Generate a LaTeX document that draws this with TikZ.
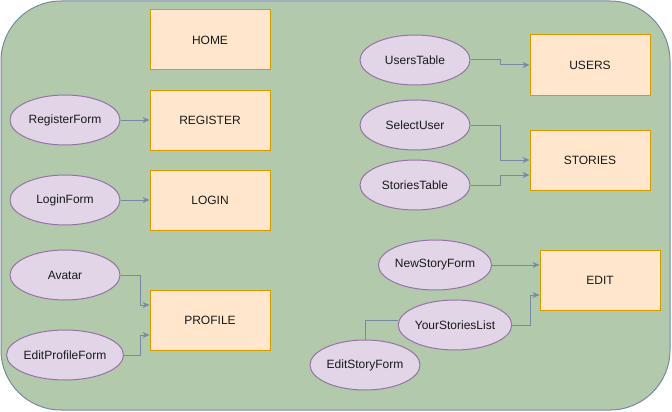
\documentclass[tikz,border=0pt]{standalone}
\usepackage{fontspec}
\setmainfont{Liberation Sans}
\usetikzlibrary{shapes.geometric,arrows.meta,calc}
\definecolor{bgfill}{HTML}{B2C9AB}
\definecolor{bgline}{HTML}{788AA3}
\definecolor{boxfill}{HTML}{FFE6CC}
\definecolor{boxline}{HTML}{D79B00}
\definecolor{ellfill}{HTML}{E1D5E7}
\definecolor{ellline}{HTML}{9673A6}
\definecolor{txt}{HTML}{1A1A1A}
\definecolor{conn}{HTML}{788AA3}
\tikzset{
  pagebox/.style={draw=boxline, fill=boxfill, line width=1pt, minimum width=120pt, minimum height=60pt, inner sep=0pt, font=\fontsize{12pt}{14pt}\selectfont, text=txt},
  compell/.style={ellipse, draw=ellline, fill=ellfill, line width=1pt, minimum width=110pt, minimum height=50pt, inner sep=0pt, font=\fontsize{12pt}{14pt}\selectfont, text=txt},
  arr/.style={draw=conn, line width=1pt, -{Stealth[length=7pt,width=6pt]}},
  plain/.style={draw=conn, line width=1pt}
}
\begin{document}
\begin{tikzpicture}[x=1pt,y=-1pt]
\useasboundingbox (0,0) rectangle (672,412);
\draw[fill=bgfill, draw=bgline, line width=1pt, rounded corners=60pt] (1,1) rectangle (670,410);

% pages
\node[pagebox] (home) at (210,40) {HOME};
\node[pagebox] (reg) at (210,120) {REGISTER};
\node[pagebox] (log) at (210,200) {LOGIN};
\node[pagebox] (pro) at (210,320) {PROFILE};
\node[pagebox] (usr) at (590,65) {USERS};
\node[pagebox] (sto) at (590,160) {STORIES};
\node[pagebox] (edt) at (600,280) {EDIT};

% components
\node[compell] (rf) at (65,120) {RegisterForm};
\node[compell] (lf) at (65,200) {LoginForm};
\node[compell] (av) at (65,275) {Avatar};
\node[compell] (epf) at (65,355) {EditProfileForm};
\node[compell] (ut) at (415,60) {UsersTable};
\node[compell] (su) at (415,125) {SelectUser};
\node[compell] (st) at (415,185) {StoriesTable};
\node[compell] (nsf) at (435,265) {NewStoryForm};
\node[compell] (ysl) at (455,325) {YourStoriesList};
\node[compell] (esf) at (365,365) {EditStoryForm};

% connectors
\draw[arr] (rf) -- (reg);
\draw[arr] (lf) -- (log);
\draw[arr] (av.east) -- (140,275) |- ([yshift=15pt]pro.west);
\draw[arr] (epf.east) -- (140,355) |- ([yshift=-15pt]pro.west);
\draw[arr] (ut.east) -- (500,60) |- (usr.west);
\draw[arr] (su.east) -- (500,125) |- (sto.west);
\draw[arr] (st.east) -- (500,185) |- ([yshift=-15pt]sto.west);
\draw[arr] (nsf.east) -- ([yshift=15pt]edt.west);
\draw[arr] (ysl.east) -- (530,325) |- ([yshift=-15pt]edt.west);
\draw[plain] (esf.north) |- ([yshift=5pt]ysl.west);
\end{tikzpicture}
\end{document}
